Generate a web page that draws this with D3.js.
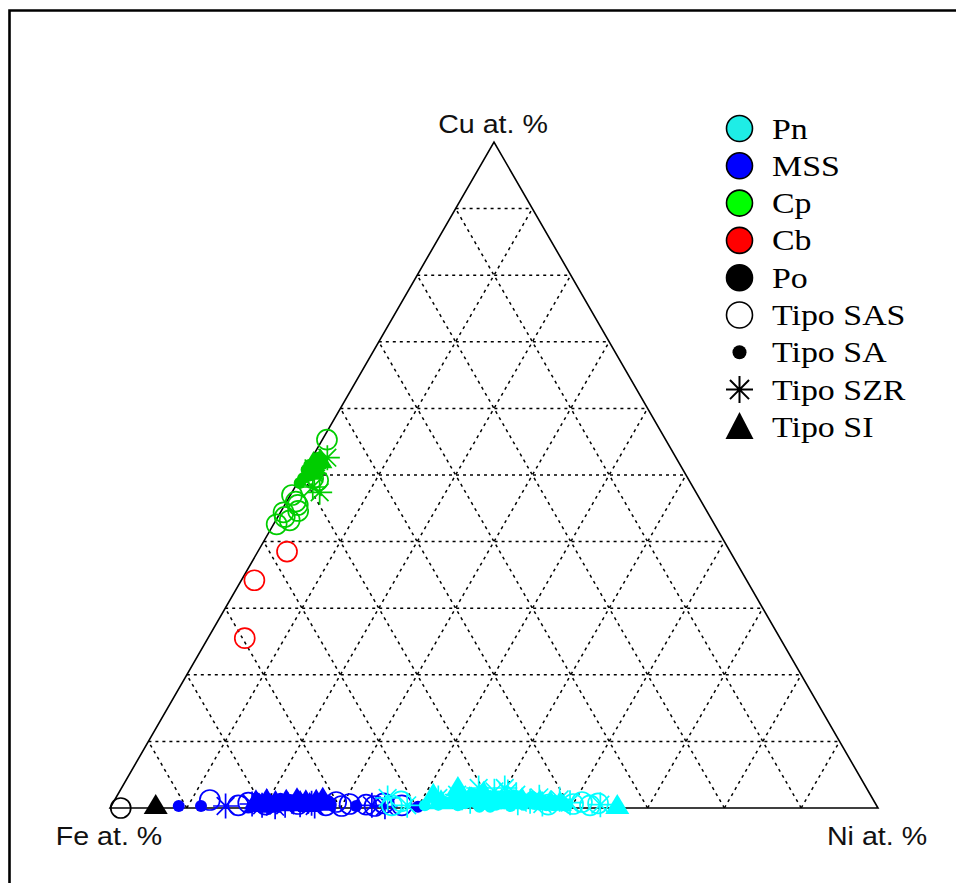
<!DOCTYPE html>
<html>
<head>
<meta charset="utf-8">
<script src="https://cdn.jsdelivr.net/npm/d3@7"></script>
<style>
  html, body { margin: 0; padding: 0; background: #fff; }
  svg { display: block; }
</style>
</head>
<body>
<svg id="chart" width="956" height="883"></svg>
<script>
// ---- Data: [Ni at.%, Cu at.%]  (Fe = 100 - Ni - Cu) ----
const poSAS  = [[1.4, 0.0]];
const poSI   = [[5.8, 0.3]];

const mssSA  = [[8.8,0.3],[11.7,0.3],[19.0,0.6],[20.3,0.8],[21.8,0.4],[23.4,0.9],[25.1,0.5],[26.8,0.7],[31.9,0.3],[40.0,0.2],
                [18.6,0.5],[19.4,1.2],[20.1,0.3],[20.9,1.0],[21.5,1.4],[22.2,0.6],[22.9,1.2],[23.8,0.4],[24.6,1.1],[25.5,0.8],[26.2,1.3],[27.2,0.5],[27.9,1.0],[28.4,0.6]];
const mssSAS = [[12.4,1.2],[16.5,0.4],[17.6,0.8],[20.0,0.5],[24.2,0.6],[27.9,0.4],[29.0,0.9],[30.0,0.3],[30.9,0.6],[33.1,0.5],[34.3,0.3],[35.3,0.7],[37.8,0.4]];
const mssSZR = [[14.9,0.3],[19.6,0.4],[21.4,0.2],[24.5,0.5],[26.5,0.3],[33.9,0.4],[35.7,0.2],[20.0,0.9],[22.6,0.4],[25.9,0.7],[18.2,0.6]];
const mssSI  = [[18.5,1.0],[19.8,1.2],[21.1,0.9],[22.4,1.1],[23.7,1.3],[25.0,1.0],[26.3,1.1],[27.5,0.8],
                [18.9,0.6],[20.6,0.5],[22.8,0.7],[24.3,0.9],[25.7,0.6],[27.0,1.4]];

const pnSAS  = [[36.5,0.4],[37.4,1.0],[56.8,0.5],[60.0,0.6],[61.0,0.9],[62.3,0.4],[63.2,0.7]];
const pnSA   = [[40.8,0.4],[43.2,0.9],[44.5,0.7],[45.6,1.3],[47.0,0.9],[48.4,0.6],[49.6,1.1],[51.0,0.7],[52.3,0.8],[53.6,0.5],[55.0,0.6],[56.2,0.9],[57.6,0.4],[58.9,0.6],[48.0,0.2],[52.0,0.3],[54.5,1.4],[50.5,1.6],
                [41.8,1.2],[42.5,0.5],[44.0,1.6],[45.1,0.4],[46.3,2.1],[47.4,1.6],[48.2,1.2],[49.1,1.8],[50.0,0.5],[50.9,1.3],[51.6,1.9],[52.8,1.4],[53.3,0.9],[54.1,1.7],[55.6,1.2],[56.6,0.4],[57.2,1.1],[58.4,0.9],[59.3,0.3],[45.9,0.7],[47.8,0.4],[49.4,0.2]];
const pnSZR  = [[35.4,1.5],[38.5,0.4],[46.4,1.0],[46.5,3.0],[48.8,2.5],[49.9,3.0],[51.9,2.0],[54.2,1.0],[56.0,0.6],[63.6,0.5],
                [42.0,1.5],[44.2,2.0],[47.2,1.8],[50.6,2.4],[52.7,0.8],[55.1,1.6],[57.9,1.3],[59.5,0.8]];
const pnSI   = [[41.1,2.0],[43.8,3.0],[46.1,1.5],[49.0,1.0],[51.8,1.0],[55.5,1.0],[58.2,0.8],[65.9,0.3],
                [42.6,1.0],[44.7,1.8],[47.5,2.3],[50.4,1.2],[53.0,1.3],[56.9,0.9]];

const cpSAS  = [[0.6,55.3],[1.7,49.5],[2.5,49.2],[0.2,47.0],[1.7,45.5],[0.4,44.4],[1.8,43.2],[0.9,43.7],[1.2,46.0],[2.2,44.6],[0.4,42.6]];
const cpSA   = [[0.2,50.8],[0.2,51.5],[0.9,50.8],[0.4,49.5],[0.7,52.0],[0.5,51.0],[1.2,50.0],[0.3,48.8],
                [0.8,52.6],[1.1,51.6],[0.6,50.2],[1.4,51.3],[0.9,49.9],[1.7,50.6]];
const cpSZR  = [[2.0,52.6],[1.0,51.0],[2.3,48.2],[3.6,47.4],[1.5,50.2]];
const cpSI   = [[0.6,51.8],[1.0,50.5],[1.3,52.2]];

const cbSAS  = [[3.8,38.5],[1.7,34.2],[4.8,25.5]];

const axisLabels = ["Cu at. %", "Fe at. %", "Ni at. %"];
const gridSteps = [10, 20, 30, 40, 50, 60, 70, 80, 90];

const mineralNames = ["Pn", "MSS", "Cp", "Cb", "Po"];
const mineralColors = ["#00FFFF", "#0000FF", "#00CD00", "#FF0000", "#000000"];
const legendFills = ["#1EEDE6", "#0000FF", "#00FF00", "#FF0000", "#000000"];
const typeNames = ["Tipo SAS", "Tipo SA", "Tipo SZR", "Tipo SI"];
const typeShapes = ["circle", "dot", "asterisk", "triangle"];

// ---- Setup ----
const svg = d3.select("#chart");
const xs = d3.scaleLinear().domain([0, 100]).range([110, 878]);
const ys = d3.scaleLinear().domain([0, 100]).range([808, 142]);
const proj = (ni, cu) => [xs(ni + cu / 2), ys(cu)];

// frame
svg.append("path")
  .attr("d", "M9.5,883 L9.5,10.5 L956,10.5")
  .attr("fill", "none").attr("stroke", "#000").attr("stroke-width", 2.6);

// grid
const g = svg.append("g").attr("stroke", "#000").attr("stroke-width", 1.5)
  .attr("stroke-dasharray", "3,4").attr("fill", "none");
const line = d3.line();
gridSteps.forEach(v => {
  g.append("path").attr("d", line([proj(0, v), proj(100 - v, v)]));       // const Cu
  g.append("path").attr("d", line([proj(v, 0), proj(v, 100 - v)]));       // const Ni
  g.append("path").attr("d", line([proj(100 - v, 0), proj(0, 100 - v)])); // const Fe
});

// outline
svg.append("path")
  .attr("d", line([proj(0, 0), proj(100, 0), proj(0, 100)]) + "Z")
  .attr("fill", "none").attr("stroke", "#000").attr("stroke-width", 1.6);

// ---- marker drawing ----
function drawMarker(sel, shape, x, y, color) {
  if (shape === "circle") {
    sel.append("circle").attr("cx", x).attr("cy", y).attr("r", 10)
      .attr("fill", "none").attr("stroke", color).attr("stroke-width", 1.7);
  } else if (shape === "dot") {
    sel.append("circle").attr("cx", x).attr("cy", y).attr("r", 6)
      .attr("fill", color).attr("stroke", "none");
  } else if (shape === "triangle") {
    sel.append("path")
      .attr("d", `M${x},${y - 12} L${x + 12},${y + 8} L${x - 12},${y + 8}Z`)
      .attr("fill", color).attr("stroke", "none");
  } else if (shape === "asterisk") {
    const r = 12.5, d = r * 0.7071;
    sel.append("path")
      .attr("d", `M${x - r},${y} L${x + r},${y} M${x},${y - r} L${x},${y + r} M${x - d},${y - d} L${x + d},${y + d} M${x - d},${y + d} L${x + d},${y - d}`)
      .attr("fill", "none").attr("stroke", color).attr("stroke-width", 1.7);
  }
}

const series = [
  [poSAS, "circle", 4], [poSI, "triangle", 4],
  [mssSAS, "circle", 1], [mssSZR, "asterisk", 1], [mssSI, "triangle", 1], [mssSA, "dot", 1],
  [pnSAS, "circle", 0], [pnSZR, "asterisk", 0], [pnSA, "dot", 0], [pnSI, "triangle", 0],
  [cpSAS, "circle", 2], [cpSZR, "asterisk", 2], [cpSA, "dot", 2], [cpSI, "triangle", 2],
  [cbSAS, "circle", 3]
];
const pts = svg.append("g");
series.forEach(([data, shape, ci]) => {
  data.forEach(([ni, cu]) => {
    const [x, y] = proj(ni, cu);
    drawMarker(pts, shape, x, y, mineralColors[ci]);
  });
});

// ---- axis labels ----
const labelPos = [proj(0, 100), proj(0, 0), proj(100, 0)];
const labelDy = [-9, 37, 37];
axisLabels.forEach((t, i) => {
  svg.append("text")
    .attr("transform", `translate(${labelPos[i][0] - 1},${labelPos[i][1] + labelDy[i]}) scale(1.1,1)`)
    .attr("text-anchor", "middle")
    .attr("font-family", "Liberation Sans, Arial, sans-serif")
    .attr("font-size", 26)
    .attr("fill", "#111")
    .text(t);
});

// ---- legend ----
const lg = svg.append("g");
const lx = 739.5, ly0 = 128.5, lstep = 37.3;
mineralNames.forEach((name, i) => {
  const y = ly0 + i * lstep;
  lg.append("circle").attr("cx", lx).attr("cy", y).attr("r", 13)
    .attr("fill", legendFills[i]).attr("stroke", "#000").attr("stroke-width", 1.6);
});
typeNames.forEach((name, j) => {
  const y = ly0 + (j + 5) * lstep;
  const shape = typeShapes[j];
  if (shape === "circle") {
    lg.append("circle").attr("cx", lx).attr("cy", y).attr("r", 13)
      .attr("fill", "none").attr("stroke", "#000").attr("stroke-width", 1.6);
  } else if (shape === "dot") {
    lg.append("circle").attr("cx", lx).attr("cy", y).attr("r", 7).attr("fill", "#000");
  } else if (shape === "asterisk") {
    const r = 13.5, d = r * 0.7071;
    lg.append("path")
      .attr("d", `M${lx - r},${y} L${lx + r},${y} M${lx},${y - r} L${lx},${y + r} M${lx - d},${y - d} L${lx + d},${y + d} M${lx - d},${y + d} L${lx + d},${y - d}`)
      .attr("stroke", "#000").attr("stroke-width", 2).attr("fill", "none");
  } else if (shape === "triangle") {
    lg.append("path")
      .attr("d", `M${lx},${y - 15} L${lx + 14},${y + 12} L${lx - 14},${y + 12}Z`)
      .attr("fill", "#000");
  }
});
mineralNames.concat(typeNames).forEach((name, k) => {
  const y = ly0 + k * lstep;
  lg.append("text")
    .attr("transform", `translate(772,${y + 10}) scale(1.13,1)`)
    .attr("font-family", "Liberation Serif, Times New Roman, serif")
    .attr("font-size", 30)
    .attr("fill", "#000")
    .text(name);
});
</script>
</body>
</html>
